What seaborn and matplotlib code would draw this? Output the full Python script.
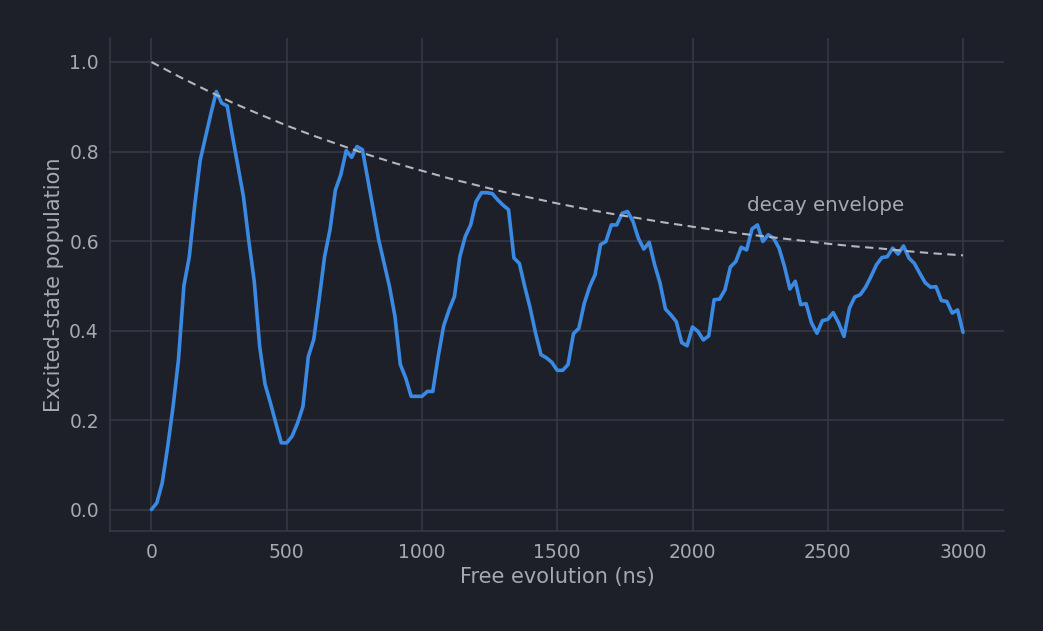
import numpy as np
import matplotlib
matplotlib.use("Agg")
import matplotlib.pyplot as plt
import seaborn as sns

# free evolution times (ns), one sample every 20 ns
time_ns = np.arange(0, 3001, 20)

population = [
    0.000, 0.015, 0.060, 0.140, 0.230, 0.335, 0.500, 0.565, 0.680, 0.780,
    0.833, 0.885, 0.934, 0.908, 0.902, 0.833, 0.766, 0.700, 0.600, 0.510,
    0.365, 0.280, 0.238, 0.193, 0.149, 0.149, 0.164, 0.193, 0.230, 0.342,
    0.380, 0.470, 0.565, 0.625, 0.714, 0.748, 0.802, 0.787, 0.811, 0.804,
    0.737, 0.670, 0.603, 0.550, 0.498, 0.432, 0.324, 0.294, 0.253, 0.253,
    0.253, 0.264, 0.264, 0.342, 0.410, 0.446, 0.476, 0.565, 0.610, 0.636,
    0.688, 0.708, 0.708, 0.706, 0.692, 0.680, 0.670, 0.562, 0.550, 0.498,
    0.450, 0.394, 0.346, 0.339, 0.329, 0.311, 0.311, 0.324, 0.393, 0.405,
    0.461, 0.498, 0.525, 0.592, 0.599, 0.636, 0.636, 0.662, 0.666, 0.644,
    0.606, 0.582, 0.597, 0.547, 0.506, 0.448, 0.435, 0.420, 0.373, 0.366,
    0.408, 0.398, 0.379, 0.388, 0.469, 0.470, 0.491, 0.542, 0.554, 0.586,
    0.580, 0.627, 0.636, 0.599, 0.614, 0.606, 0.584, 0.543, 0.493, 0.510,
    0.458, 0.460, 0.417, 0.394, 0.422, 0.425, 0.440, 0.417, 0.387, 0.450,
    0.475, 0.480, 0.497, 0.521, 0.547, 0.563, 0.565, 0.584, 0.571, 0.589,
    0.562, 0.550, 0.528, 0.507, 0.497, 0.498, 0.467, 0.465, 0.439, 0.446,
    0.396,
]

# decay envelope, sampled every 100 ns
envelope_t = np.arange(0, 3001, 100)
envelope = [
    1.000, 0.968, 0.938, 0.909, 0.883, 0.858, 0.835, 0.814, 0.793, 0.774,
    0.757, 0.740, 0.725, 0.710, 0.697, 0.684, 0.672, 0.661, 0.651, 0.641,
    0.632, 0.623, 0.615, 0.608, 0.601, 0.594, 0.588, 0.583, 0.577, 0.572,
    0.568,
]

bg = "#1e2029"
grid_c = "#363944"
text_c = "#a7a9b1"

sns.set_theme(style="darkgrid", rc={
    "figure.facecolor": bg,
    "axes.facecolor": bg,
    "axes.edgecolor": grid_c,
    "grid.color": grid_c,
    "grid.linewidth": 1.2,
    "axes.labelcolor": text_c,
    "xtick.color": text_c,
    "ytick.color": text_c,
    "text.color": text_c,
})
plt.rcParams["font.family"] = ["DejaVu Sans"]

fig = plt.figure(figsize=(10.43, 6.31), dpi=100)
ax = fig.add_axes([0.1055, 0.1577, 0.857, 0.7813])

sns.lineplot(x=time_ns, y=population, ax=ax, color="#3a8ae3", linewidth=2.6)
sns.lineplot(x=envelope_t, y=envelope, ax=ax, color="#b4b6be",
             linewidth=1.5, linestyle=(0, (4, 2.6)))

ax.text(2200, 0.68, "decay envelope", fontsize=14.3, color=text_c,
        ha="left", va="center")

ax.set_xlabel("Free evolution (ns)", fontsize=15)
ax.set_ylabel("Excited-state population", fontsize=15)
ax.tick_params(axis="both", labelsize=13.5, length=0, pad=8)
ax.set_xticks([0, 500, 1000, 1500, 2000, 2500, 3000])
ax.set_yticks([0.0, 0.2, 0.4, 0.6, 0.8, 1.0])
ax.set_xlim(-153, 3151)
ax.set_ylim(-0.049, 1.0525)

for side in ["top", "right"]:
    ax.spines[side].set_visible(False)
for side in ["left", "bottom"]:
    ax.spines[side].set_visible(True)
    ax.spines[side].set_color(grid_c)
    ax.spines[side].set_linewidth(1.2)

fig.savefig("out.png", dpi=100, facecolor=bg)
